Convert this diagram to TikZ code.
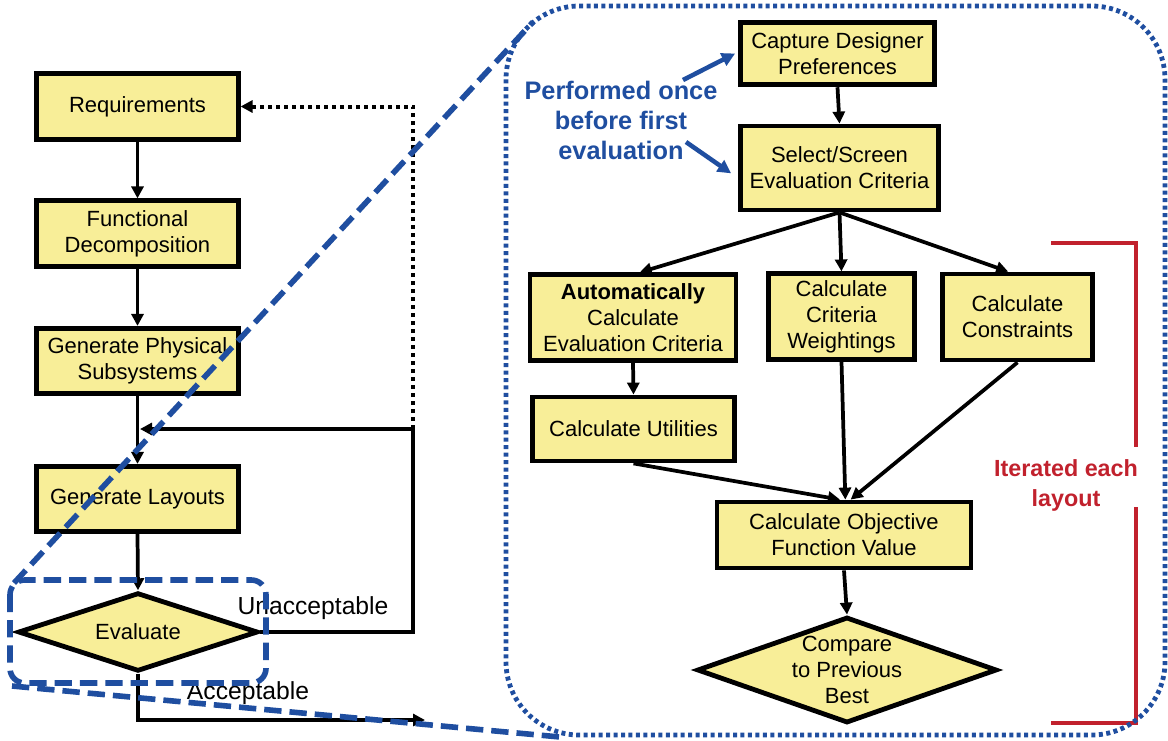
\documentclass[tikz,border=0pt]{standalone}
\usepackage{fontspec}
\setmainfont{Liberation Sans}
\usetikzlibrary{shapes.geometric,arrows.meta}
\definecolor{boxfill}{RGB}{248,238,152}
\definecolor{dblue}{RGB}{31,78,160}
\definecolor{dred}{RGB}{193,33,45}
\begin{document}
\begin{tikzpicture}[x=0.75pt,y=-0.75pt,
  box/.style={draw=black, line width=3.6pt, fill=boxfill, inner sep=0pt, align=center,
    font=\fontsize{16.5}{19.5}\selectfont},
  diam/.style={diamond, draw=black, line width=3.6pt, fill=boxfill, inner sep=0pt},
  txt/.style={align=center, font=\fontsize{16.5}{19.5}\selectfont},
  arr/.style={draw=black, line width=2.8pt, -{Triangle[length=9pt,width=9pt]}},
  plain/.style={draw=black, line width=2.8pt},
  dotarr/.style={draw=black, line width=3pt, dash pattern=on 3pt off 3pt, -{Triangle[length=9pt,width=9pt]}},
  bdash/.style={draw=dblue, line width=4.2pt, dash pattern=on 13pt off 6pt},
  bdot/.style={draw=dblue, line width=3.6pt, dash pattern=on 3pt off 2.6pt},
  barr/.style={draw=dblue, line width=3.4pt, -{Triangle[length=10pt,width=10pt]}},
  lbl/.style={font=\fontsize{18.5}{22}\selectfont},
  note/.style={align=center, font=\fontsize{19}{22.5}\selectfont\bfseries},
]
\useasboundingbox (0,0) rectangle (1168,740);

% left column
\node[box, minimum width=151pt, minimum height=49pt] (req) at (137.5,106.5) {Requirements};
\node[box, minimum width=151pt, minimum height=49pt] (func) at (137.5,233.5) {Functional\\Decomposition};
\node[box, minimum width=151pt, minimum height=49pt] (phys) at (137.5,361) {Generate Physical\\Subsystems};
\node[box, minimum width=151pt, minimum height=49pt] (lay) at (137.5,499) {Generate Layouts};
\node[diam, minimum width=180pt, minimum height=59pt] (eval) at (138,632) {};
\node[txt] (evalt) at (eval) {Evaluate};

\coordinate (c1) at (413,429);
\coordinate (j) at (140,429);
\coordinate (out) at (425,720);

\draw[arr] (req.south) -- (func.north);
\draw[arr] (func.south) -- (phys.north);
\draw[arr] (phys.south) -- (lay.north);
\draw[arr] (lay.south) -- (eval.north);
\draw[plain] (eval.east) -| (c1);
\draw[arr] (c1) -- (j);
\draw[dotarr] (c1) |- (req.east);
\draw[arr] (eval.south) |- (out);

\node[lbl] (unacc) at (313,608) {Unacceptable};
\node[lbl] (acc) at (248,693) {Acceptable};

% right panel
\node[box, minimum width=146pt, minimum height=47pt] (cap) at (837.5,53.5) {Capture Designer\\Preferences};
\node[box, minimum width=149pt, minimum height=63pt] (sel) at (839.5,168) {Select/Screen\\Evaluation Criteria};
\node[box, minimum width=154.5pt, minimum height=64pt] (auto) at (633,317.5) {{\bfseries Automatically}\\Calculate\\Evaluation Criteria};
\node[box, minimum width=110pt, minimum height=64pt] (wgt) at (841.5,316.5) {Calculate\\Criteria\\Weightings};
\node[box, minimum width=113pt, minimum height=64.5pt] (cons) at (1017.5,317) {Calculate\\Constraints};
\node[box, minimum width=152pt, minimum height=48pt] (util) at (633.5,429) {Calculate Utilities};
\node[box, minimum width=190.5pt, minimum height=49.5pt] (obj) at (844,535) {Calculate Objective\\Function Value};
\node[diam, minimum width=225pt, minimum height=79.5pt] (cmp) at (847,670) {};
\node[txt] (cmpt) at (cmp) {Compare\\to Previous\\Best};

\draw[arr] (cap.south) -- (sel.north);
\draw[arr] (sel.south) -- ([xshift=5pt]auto.north);
\draw[arr] (sel.south) -- (wgt.north);
\draw[arr] (sel.south) -- ([xshift=-7pt]cons.north);
\draw[arr] (auto.south) -- (util.north);
\draw[arr] (util.south) -- ([xshift=-3pt]obj.north);
\draw[arr] (wgt.south) -- ([xshift=1pt]obj.north);
\draw[arr] (cons.south) -- ([xshift=5pt]obj.north);
\draw[arr] (obj.south) -- (cmp.north);

% blue annotation
\node[note, text=dblue] (perf) at (621,120) {Performed once\\before first\\evaluation};
\coordinate (pa) at (683,80);
\coordinate (pb) at (686,142);
\draw[barr] (pa) -- ([xshift=-2pt]cap.west);
\draw[barr] (pb) -- ([xshift=-5pt,yshift=-4pt]sel.west);

% red bracket
\draw[dred, line width=3.2pt] (1051,243) -| (1136,447);
\draw[dred, line width=3.2pt] (1136,507) |- (1051,723);
\node[note, text=dred, font=\fontsize{17.5}{22.5}\selectfont\bfseries] (iter) at (1066,485) {Iterated each\\layout};

% zoom outline
\draw[bdot, rounded corners=55pt] (506,6) rectangle (1165,735);
\draw[bdash, rounded corners=11pt] (10,580) rectangle (266,683);
\draw[bdash] (14,583) -- (533,22);
\draw[bdash] (12,686) -- (560,737);
\end{tikzpicture}
\end{document}
